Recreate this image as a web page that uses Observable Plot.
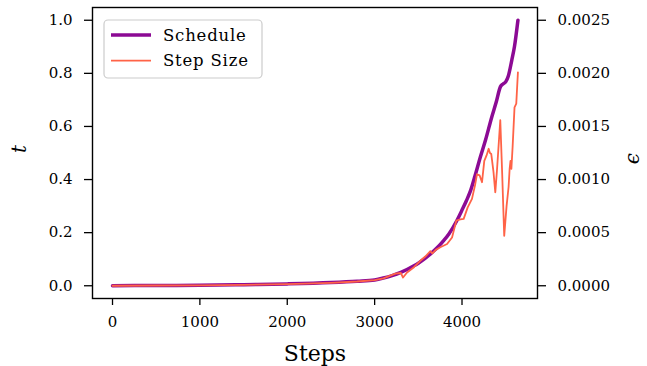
<!DOCTYPE html>
<html><head><meta charset="utf-8">
<script src="https://cdn.jsdelivr.net/npm/d3@7"></script>
<script src="https://cdn.jsdelivr.net/npm/@observablehq/plot@0.6"></script>
<style>
html,body{margin:0;padding:0;background:#fff;}
#chart{position:relative;width:647px;height:366px;}
</style>
</head><body><div id="chart"></div>
<script>
// Schedule t (left axis)
const scheduleSteps = [0,500,1000,1500,2000,2500,2800,3000,3100,3200,3300,3450,3500,3640,3700,3790,3850,3940,4000,4050,4100,4150,4210,4270,4340,4390,4440,4470,4500,4530,4570,4600,4640];
const scheduleT     = [0,0.001,0.002,0.004,0.007,0.012,0.017,0.022,0.029,0.038,0.05,0.075,0.085,0.12,0.138,0.17,0.195,0.245,0.285,0.32,0.36,0.415,0.485,0.55,0.635,0.69,0.75,0.76,0.768,0.79,0.85,0.9,1.0];
// Step size epsilon (right axis)
const stepSteps = [0,500,1000,1500,2000,2500,2800,3000,3100,3238,3300,3325,3371,3450,3523,3580,3638,3660,3700,3752,3829,3886,3935,3980,4019,4065,4114,4150,4171,4201,4229,4255,4280,4305,4320,4335,4360,4381,4400,4438,4460,4483,4510,4533,4545,4555,4565,4579,4601,4621,4640];
const stepEps   = [0,0.0000023,0.0000045,0.0000088,0.000015,0.0000275,0.00004,0.0000525,0.00007,0.000115,0.00012,0.0000775,0.000125,0.000175,0.000235,0.000275,0.000325,0.000305,0.000338,0.000363,0.000393,0.000455,0.000613,0.000625,0.00063,0.000738,0.000818,0.00095,0.00105,0.00104,0.000975,0.001175,0.001225,0.00129,0.00125,0.00124,0.001075,0.00088,0.001085,0.00156,0.00105,0.00047,0.00075,0.00093,0.0011,0.001175,0.0011,0.001305,0.00168,0.001715,0.00201];
// Ticks
const xTicks = [0,1000,2000,3000,4000];
const tTicks = [0,0.2,0.4,0.6,0.8,1.0];
const epsTicks = [0,0.0005,0.001,0.0015,0.002,0.0025];
const epsMax = 0.0025; // right axis top aligns with t = 1
const seriesNames = ["Schedule","Step Size"];
const seriesColors = ["#8c0a94","#ff6347"];

const schedule = scheduleSteps.map((s,i)=>({step:s, t:scheduleT[i]}));
const stepSize = stepSteps.map((s,i)=>({step:s, eps:stepEps[i]}));

const font = "DejaVu Serif, serif";
const plot = Plot.plot({
  width: 647, height: 366,
  marginLeft: 92, marginRight: 110, marginTop: 7, marginBottom: 68,
  style: {fontFamily: font, fontSize: "15px", color: "black", background: "white"},
  x: {domain: [-229, 4864]},
  y: {domain: [-0.048, 1.048]},
  marks: [
    Plot.frame({stroke: "black", strokeWidth: 1.4}),
    Plot.line(schedule, {x: "step", y: "t", stroke: seriesColors[0], strokeWidth: 3.5, curve: "monotone-x"}),
    Plot.line(stepSize, {x: "step", y: d => d.eps / epsMax, stroke: seriesColors[1], strokeWidth: 1.8}),
    Plot.axisX({ticks: xTicks, tickSize: 7, tickPadding: 11, tickFormat: d => String(d), label: null, strokeWidth: 1.3}),
    Plot.axisY({anchor: "left", ticks: tTicks, tickSize: 8, tickPadding: 12, tickFormat: d3.format(".1f"), label: null, strokeWidth: 1.3}),
    Plot.axisY({anchor: "right", ticks: epsTicks.map(e => e / epsMax), tickSize: 8, tickPadding: 12,
      tickFormat: (d, i) => d3.format(".4f")(epsTicks[i]), label: null, strokeWidth: 1.3}),
    Plot.text(["Steps"], {frameAnchor: "bottom", dy: 62, fontSize: 22, fill: "black"}),
    Plot.text(["t"], {frameAnchor: "left", dx: -73, rotate: -90, fontSize: 20, fontStyle: "italic", fill: "black"}),
    Plot.text(["ϵ"], {frameAnchor: "right", dx: 95, rotate: -90, fontSize: 20, fontStyle: "italic", fill: "black"})
  ]
});
document.getElementById("chart").appendChild(plot);

// Legend (inside the axes, upper left)
const svg = d3.select(plot);
const lg = svg.append("g").attr("font-family", font).attr("font-size", 16.5).attr("text-anchor", "start");
lg.append("rect").attr("x", 104).attr("y", 20).attr("width", 158).attr("height", 58).attr("rx", 4)
  .attr("fill", "white").attr("fill-opacity", 0.8).attr("stroke", "#cccccc").attr("stroke-width", 1.2);
seriesNames.forEach((name, i) => {
  const y = 35 + i * 25.7;
  lg.append("line").attr("x1", 111).attr("x2", 151).attr("y1", y).attr("y2", y)
    .attr("stroke", seriesColors[i]).attr("stroke-width", i === 0 ? 3.5 : 1.8);
  lg.append("text").attr("x", 163).attr("y", y).attr("dy", "0.35em").attr("fill", "black")
    .attr("text-anchor", "start").attr("letter-spacing", "0.8px").text(name);
});
</script>
</body></html>
